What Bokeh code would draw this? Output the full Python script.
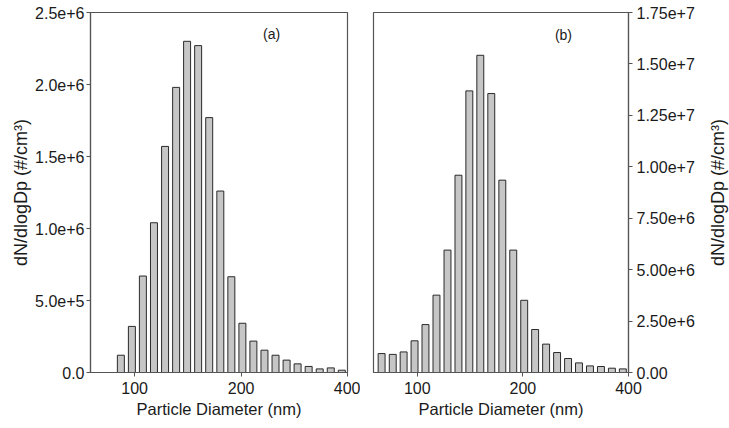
from bokeh.plotting import figure
from bokeh.layouts import row
from bokeh.models import Range1d, FixedTicker, BasicTickFormatter, ColumnDataSource
from bokeh.core.properties import value
from bokeh.embed import file_html
from bokeh.resources import INLINE

# ---- data ----
diam_a = [91.4, 98.2, 105.5, 113.4, 121.9, 131.0, 140.7, 151.2, 162.5, 174.7, 187.7,
          201.7, 216.7, 232.9, 250.3, 269.0, 289.0, 310.6, 333.8, 358.7, 385.4]
conc_a = [1.2e5, 3.2e5, 6.7e5, 1.04e6, 1.57e6, 1.98e6, 2.30e6, 2.27e6, 1.77e6, 1.26e6, 6.65e5,
          3.42e5, 2.18e5, 1.55e5, 1.2e5, 8.6e4, 6.0e4, 4.2e4, 2.5e4, 3.2e4, 1.6e4]

diam_b = [79.1, 85.1, 91.4, 98.2, 105.5, 113.4, 121.9, 131.0, 140.7, 151.2, 162.5, 174.7,
          187.7, 201.7, 216.7, 232.9, 250.3, 269.0, 289.0, 310.6, 333.8, 358.7, 385.4]
conc_b = [9.2e5, 8.8e5, 1.0e6, 1.54e6, 2.33e6, 3.76e6, 5.95e6, 9.59e6, 1.369e7, 1.542e7, 1.356e7,
          9.35e6, 5.95e6, 3.51e6, 2.09e6, 1.38e6, 9.7e5, 6.8e5, 4.67e5, 3.21e5, 2.92e5, 2.09e5, 1.75e5]

x_ticks = [100, 200, 400]
y_ticks_a = [0, 500000, 1000000, 1500000, 2000000, 2500000]
y_labels_a = ["0.0", "5.0e+5", "1.0e+6", "1.5e+6", "2.0e+6", "2.5e+6"]
y_ticks_b = [0, 2500000, 5000000, 7500000, 10000000, 12500000, 15000000, 17500000]
y_labels_b = ["0.00", "2.50e+6", "5.00e+6", "7.50e+6", "1.00e+7", "1.25e+7", "1.50e+7", "1.75e+7"]
panel_labels = ["(a)", "(b)"]
x_title = "Particle Diameter (nm)"
y_title = "dN/dlogDp (#/cm\u00b3)"

# ---- styling ----
FONT = "Liberation Sans"
TXT = "#1a1a1a"
AX = "#555555"
BAR_HALF = 1.023  # multiplicative half-width of a bar on the log axis
H = 426


def make_fig(diam, conc, ymax, yticks, ylabels, side, width, mbl, mbr, label, label_pos):
    p = figure(width=width, height=H, x_axis_type="log",
               x_range=Range1d(75, 400), y_range=Range1d(0, ymax),
               y_axis_location=side, output_backend="svg", toolbar_location=None,
               min_border_left=mbl, min_border_right=mbr, min_border_top=12,
               min_border_bottom=H - 12 - 360)
    p.grid.visible = False
    p.outline_line_color = AX
    p.outline_line_width = 1.2
    p.background_fill_color = "white"
    p.border_fill_color = "white"

    src = ColumnDataSource(dict(
        left=[d / BAR_HALF for d in diam],
        right=[d * BAR_HALF for d in diam],
        top=conc,
        bottom=[0] * len(conc),
    ))
    p.quad(left="left", right="right", top="top", bottom="bottom", source=src,
           fill_color="#c6c6c6", line_color="#2a2a2a", line_width=1)

    xa = p.xaxis[0]
    xa.ticker = FixedTicker(ticks=x_ticks, minor_ticks=[])
    xa.formatter = BasicTickFormatter()
    xa.axis_label = x_title
    xa.axis_label_text_font = FONT
    xa.axis_label_text_font_size = "16.5px"
    xa.axis_label_text_font_style = "normal"
    xa.axis_label_text_color = TXT
    xa.axis_label_standoff = 3
    xa.major_label_text_font = FONT
    xa.major_label_text_font_size = "16px"
    xa.major_label_text_color = TXT
    xa.major_label_standoff = 5
    xa.major_tick_in = 0
    xa.major_tick_out = 4
    xa.minor_tick_in = 0
    xa.minor_tick_out = 0
    xa.axis_line_color = AX
    xa.major_tick_line_color = AX
    xa.axis_line_width = 1.2

    ya = p.yaxis[0]
    ya.ticker = FixedTicker(ticks=yticks, minor_ticks=[])
    ya.major_label_overrides = {t: s for t, s in zip(yticks, ylabels)}
    ya.major_label_text_font = FONT
    ya.major_label_text_font_size = "16px"
    ya.major_label_text_color = TXT
    ya.major_label_standoff = 2 if side == "left" else 4
    ya.major_tick_in = 0
    ya.major_tick_out = 4
    ya.minor_tick_in = 0
    ya.minor_tick_out = 0
    ya.axis_line_color = AX
    ya.major_tick_line_color = AX
    ya.axis_line_width = 1.2

    p.text(x=[label_pos[0]], y=[label_pos[1]], text=[label], text_font=value(FONT),
           text_font_size="14px", text_color=TXT, text_align="center", text_baseline="middle")
    return p


def title_strip(width, mbl):
    """Narrow figure that only carries a vertical y-title (reads bottom-to-top)."""
    t = figure(width=width, height=H, x_range=Range1d(0, 1), y_range=Range1d(0, 1),
               x_axis_location=None, y_axis_location="left", output_backend="svg",
               toolbar_location=None, min_border_left=mbl, min_border_right=0,
               min_border_top=12, min_border_bottom=38)
    t.grid.visible = False
    t.outline_line_color = None
    t.background_fill_color = "white"
    t.border_fill_color = "white"
    ya = t.yaxis[0]
    ya.ticker = FixedTicker(ticks=[], minor_ticks=[])
    ya.axis_line_color = None
    ya.major_tick_line_color = None
    ya.minor_tick_line_color = None
    ya.major_tick_in = 0
    ya.major_tick_out = 0
    ya.minor_tick_in = 0
    ya.minor_tick_out = 0
    ya.major_label_standoff = 0
    ya.axis_label = y_title
    ya.axis_label_standoff = 0
    ya.axis_label_text_font = FONT
    ya.axis_label_text_font_size = "18px"
    ya.axis_label_text_font_style = "normal"
    ya.axis_label_text_color = TXT
    return t


p0 = title_strip(32, 30)
p1 = make_fig(diam_a, conc_a, 2500000, y_ticks_a, y_labels_a, "left", 328, 55, 13,
              panel_labels[0], (244, 2350000))
p2 = make_fig(diam_b, conc_b, 17500000, y_ticks_b, y_labels_b, "right", 337, 13, 67,
              panel_labels[1], (261, 16400000))
p3 = title_strip(32, 30)

layout = row(p0, p1, p2, p3)
open("out.html", "w").write(file_html(layout, INLINE))
